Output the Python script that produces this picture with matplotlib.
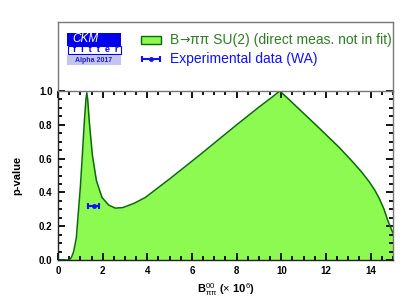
import matplotlib
matplotlib.use("Agg")
import matplotlib.pyplot as plt
from matplotlib.patches import Rectangle
from matplotlib.ticker import MultipleLocator
from matplotlib.transforms import offset_copy

plt.rcParams['font.family'] = ['Liberation Sans', 'DejaVu Sans']
plt.rcParams['mathtext.fontset'] = 'custom'
plt.rcParams['mathtext.rm'] = 'Liberation Sans'
plt.rcParams['mathtext.it'] = 'Liberation Sans'
plt.rcParams['mathtext.bf'] = 'Liberation Sans:bold'

# p-value curve
x_vals = [0.0, 0.45, 0.52, 0.60, 0.70, 0.82, 0.88, 1.0, 1.09, 1.18, 1.25, 1.29, 1.33,
          1.40, 1.54, 1.72, 1.97, 2.27, 2.57, 2.9, 3.4, 3.91, 5.0, 6.38, 8.0, 9.0,
          9.6, 9.93, 10.3, 10.82, 11.7, 12.6, 13.2, 13.6, 13.95, 14.2, 14.4, 14.6,
          14.75, 14.9, 15.0]
p_vals = [0.0, 0.0, 0.002, 0.015, 0.05, 0.13, 0.23, 0.43, 0.62, 0.82, 0.95, 0.99, 0.95,
          0.82, 0.62, 0.47, 0.37, 0.325, 0.307, 0.31, 0.335, 0.37, 0.48, 0.625, 0.80, 0.905,
          0.965, 1.0, 0.955, 0.89, 0.78, 0.665, 0.58, 0.52, 0.46, 0.41, 0.36, 0.30,
          0.24, 0.19, 0.16]

# experimental data (WA)
exp_x = [1.59]
exp_xerr = [0.23]
exp_y = [0.317]

xticks = [0, 2, 4, 6, 8, 10, 12, 14]
yticks = [0.0, 0.2, 0.4, 0.6, 0.8, 1.0]

legend_pieces = ["B", "\u2192", "\u03c0\u03c0 SU(2) (direct meas. not in fit)"]
legend_label2 = "Experimental data (WA)"

W, H = 414, 303
fig = plt.figure(figsize=(W / 100, H / 100), dpi=100)

def fx(px):
    return px / W

def fy(py):
    return 1 - py / H

fill_c = '#8cfa50'
edge_c = '#0a6a0a'
blue = '#1010ff'
frame_c = '#777777'

# main axes
L, R, T, B = 58, 393, 91, 260
ax = fig.add_axes([fx(L), fy(B), fx(R) - fx(L), fy(T) - fy(B)])
ax.fill_between(x_vals, p_vals, 0, color=fill_c, lw=0)
ax.plot(x_vals, p_vals, color=edge_c, lw=1.1)
ax.errorbar(exp_x, exp_y, xerr=exp_xerr, fmt='o', color=blue, ms=2.5,
            capsize=2.5, elinewidth=1.5, capthick=1.5)
ax.set_xlim(0, 15)
ax.set_ylim(0, 1.0)
ax.set_xticks(xticks)
ax.set_yticks(yticks)
ax.set_yticklabels([f"{v:.1f}" for v in yticks])
ax.xaxis.set_minor_locator(MultipleLocator(0.5))
ax.yaxis.set_minor_locator(MultipleLocator(0.05))
ax.tick_params(which='both', direction='in', top=True, right=True,
               labelsize=7, width=1.3, pad=4)
ax.tick_params(which='major', length=5)
ax.tick_params(which='minor', length=3)
for lab in ax.get_xticklabels() + ax.get_yticklabels():
    lab.set_fontweight('bold')
for s in ax.spines.values():
    s.set_color('#222222')
    s.set_linewidth(1.0)
ax.spines['top'].set_color(frame_c)
ax.spines['right'].set_color(frame_c)
ax.set_xlabel(r"$\mathbf{B}^{00}_{\pi\pi}$ ($\times$ 10$^{6}$)", fontsize=8,
              fontweight='bold', labelpad=4)
ax.set_ylabel("p-value", fontsize=8, fontweight='bold', labelpad=12)

# legend frame
lax = fig.add_axes([fx(L), fy(T), fx(R) - fx(L), fy(22) - fy(T)])
lax.set_xlim(L, R)
lax.set_ylim(T, 22)
lax.set_xticks([])
lax.set_yticks([])
lax.patch.set_alpha(0)
for k, s in lax.spines.items():
    s.set_color(frame_c)
    s.set_linewidth(1.0)
lax.spines['bottom'].set_visible(False)

# legend entries
lax.add_patch(Rectangle((141, 36), 20, 8, facecolor=fill_c, edgecolor=edge_c, lw=1.0))
green_txt = '#2e7d22'
fig.canvas.draw()
renderer = fig.canvas.get_renderer()
t = lax.text(170, 40, legend_pieces[0], color=green_txt, fontsize=10, va='center',
             ha='left', clip_on=True)
fams = [['Liberation Sans'], ['DejaVu Sans'], ['Liberation Sans']]
for i in range(1, 3):
    w = t.get_window_extent(renderer).width
    tr = offset_copy(t.get_transform(), fig=fig, x=w, units='dots')
    t = lax.text(t._x, t._y, legend_pieces[i], color=green_txt, fontsize=10,
                 va='center', ha='left', transform=tr, clip_on=True,
                 family=fams[i])
    if i == 1:
        t.set_fontsize(9)
lax.errorbar([151], [59], xerr=[9], fmt='o', color=blue, ms=2.5, capsize=2.5,
             elinewidth=1.5, capthick=1.5)
lax.text(170, 59, legend_label2, color=blue, fontsize=10, va='center', ha='left')

# logo
lax.add_patch(Rectangle((67, 33), 54, 13, facecolor='#0000ee', edgecolor='none'))
lax.text(85, 39.5, "CKM", color='white', fontsize=8.5, style='italic',
         va='center', ha='center')
lax.add_patch(Rectangle((67.5, 46), 53, 7.5, facecolor='white', edgecolor='#0000ee', lw=0.8))
lax.text(118, 50.0, "f  i  t  t  e  r", color='#0000ee', fontsize=6.5, fontweight='bold',
         va='center', ha='right')
lax.add_patch(Rectangle((67, 55), 54, 10, facecolor='#c4c4f0', edgecolor='none'))
lax.text(94, 60, "Alpha 2017", color='#2020c0', fontsize=5, fontweight='bold',
         va='center', ha='center')

fig.savefig("out.png", dpi=100)
